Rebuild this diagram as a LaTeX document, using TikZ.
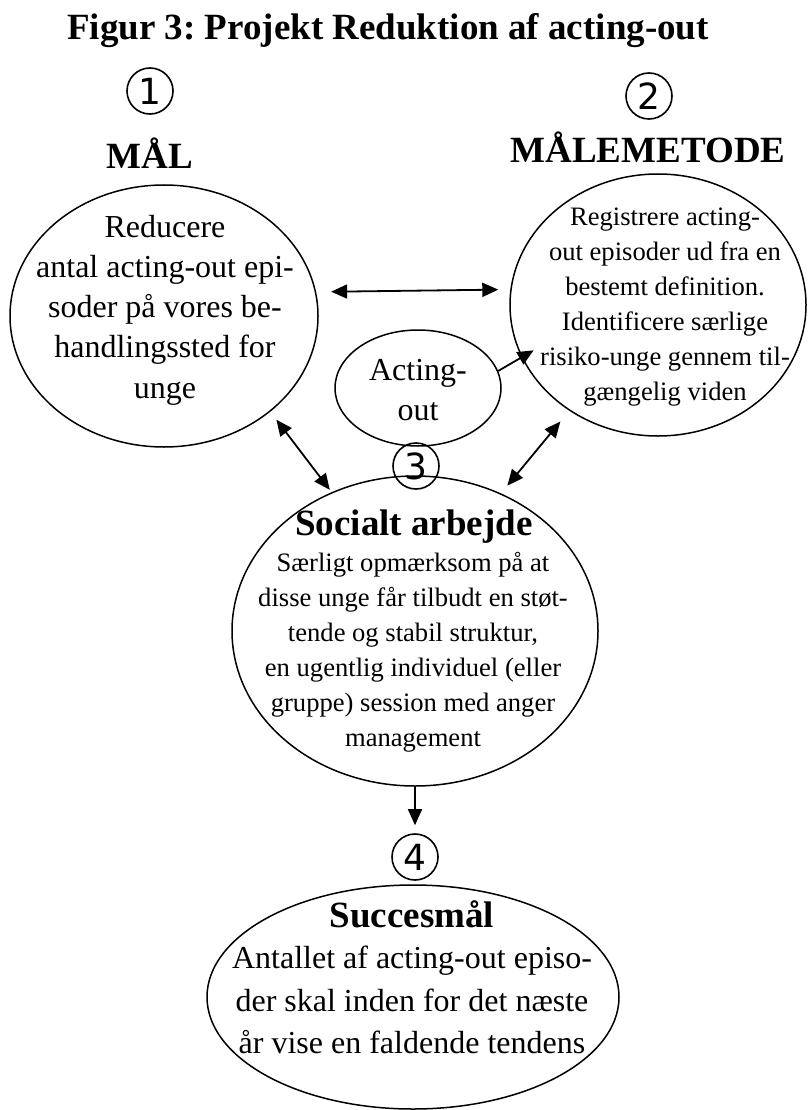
\documentclass[tikz,border=0pt]{standalone}
\usepackage{fontspec}
\setmainfont{Liberation Serif}
\newfontfamily\ringfont{DejaVu Sans}
\usetikzlibrary{arrows.meta,positioning,shapes.geometric}
\frenchspacing
\definecolor{FigInk}{HTML}{000000}
\definecolor{FigPaper}{HTML}{FFFFFF}
\tikzset{
  flow/.style={-{Triangle[length=16pt,width=14pt]},FigInk,line width=1.8pt},
  twoway/.style={{Triangle[length=16pt,width=14pt]}-{Triangle[length=16pt,width=14pt]},
                 FigInk,line width=1.8pt},
  oval/.style={draw=FigInk,ellipse,line width=1.5pt,inner sep=0pt},
  numring/.style={draw=FigInk,circle,line width=1.6pt,minimum size=46pt,inner sep=0pt,
                  text=FigInk,font=\ringfont\fontsize{36}{36}\selectfont},
  headlabel/.style={text=FigInk,font=\fontsize{37}{44}\selectfont\bfseries,anchor=base},
  bodycopy/.style={text=FigInk,font=\fontsize{32}{40.25}\selectfont,align=center},
  smallcopy/.style={text=FigInk,font=\fontsize{26.6}{35}\selectfont,align=center},
}
\begin{document}
\begin{tikzpicture}[x=1pt,y=-1pt]
    \useasboundingbox[fill=FigPaper] (0,0) rectangle (808,1110);
    \node[headlabel] (title) at (388,40) {Figur 3: Projekt Reduktion af acting-out};

    % 1 and 2: goal and method
    \node[numring] (one) at (150,91) {1};
    \node[headlabel] (malhead) at (150,168) {MÅL};
    \node[numring] (two) at (649,96) {2};
    \node[headlabel] (methead) at (648,163) {MÅLEMETODE};

    \node[oval,minimum width=308pt,minimum height=262pt] (mal) at (164,316) {};
    \node[bodycopy] (maltext) at (165,310)
      {Reducere\\antal acting-out epi-\\soder på vores be-\\handlingssted for\\unge};

    \node[oval,minimum width=296pt,minimum height=262pt] (met) at (658,305) {};
    \node[smallcopy] (mettext) at (665,307)
      {Registrere acting-\\out episoder ud fra en\\bestemt definition.\\
       Identificere særlige\\risiko-unge gennem til-\\gængelig viden};

    \node[oval,minimum width=166pt,minimum height=116pt] (act) at (418,388) {};
    \node[bodycopy] (acttext) at (418,390) {Acting-\\out};

    % 3: social work
    \node[numring] (three) at (416,466) {3};
    \node[oval,minimum width=366pt,minimum height=310pt] (soc) at (415,631) {};
    \node[headlabel] (sochead) at (414,535) {Socialt arbejde};
    \node[smallcopy] (soctext) at (413,652)
      {Særligt opmærksom på at\\disse unge får tilbudt en støt-\\tende og stabil struktur,\\
       en ugentlig individuel (eller\\gruppe) session med anger\\management};

    % 4: success criterion
    \node[numring] (four) at (415,857) {4};
    \node[oval,minimum width=412pt,minimum height=224pt] (suc) at (413,997) {};
    \node[headlabel] (suchead) at (412,927) {Succesmål};
    \node[bodycopy,font=\fontsize{32}{42.5}\selectfont] (suctext) at (412,1000)
      {Antallet af acting-out episo-\\der skal inden for det næste\\år vise en faldende tendens};

    \draw[twoway,shorten <=15pt,shorten >=12pt] (mal.9.8) -- (met.174.2);
    \draw[twoway,shorten <=10pt,shorten >=3pt] (mal.-42.6) -- (soc.121.4);
    \draw[twoway,shorten <=14pt,shorten >=10pt] (met.230.1) -- (soc.58.1);
    \draw[flow,shorten >=-14pt] (act.12.8) -- (met.201.5);
    \draw[flow,line width=1.5pt,shorten >=8pt] (soc.south) -- (four.north);
  \end{tikzpicture}
\end{document}
